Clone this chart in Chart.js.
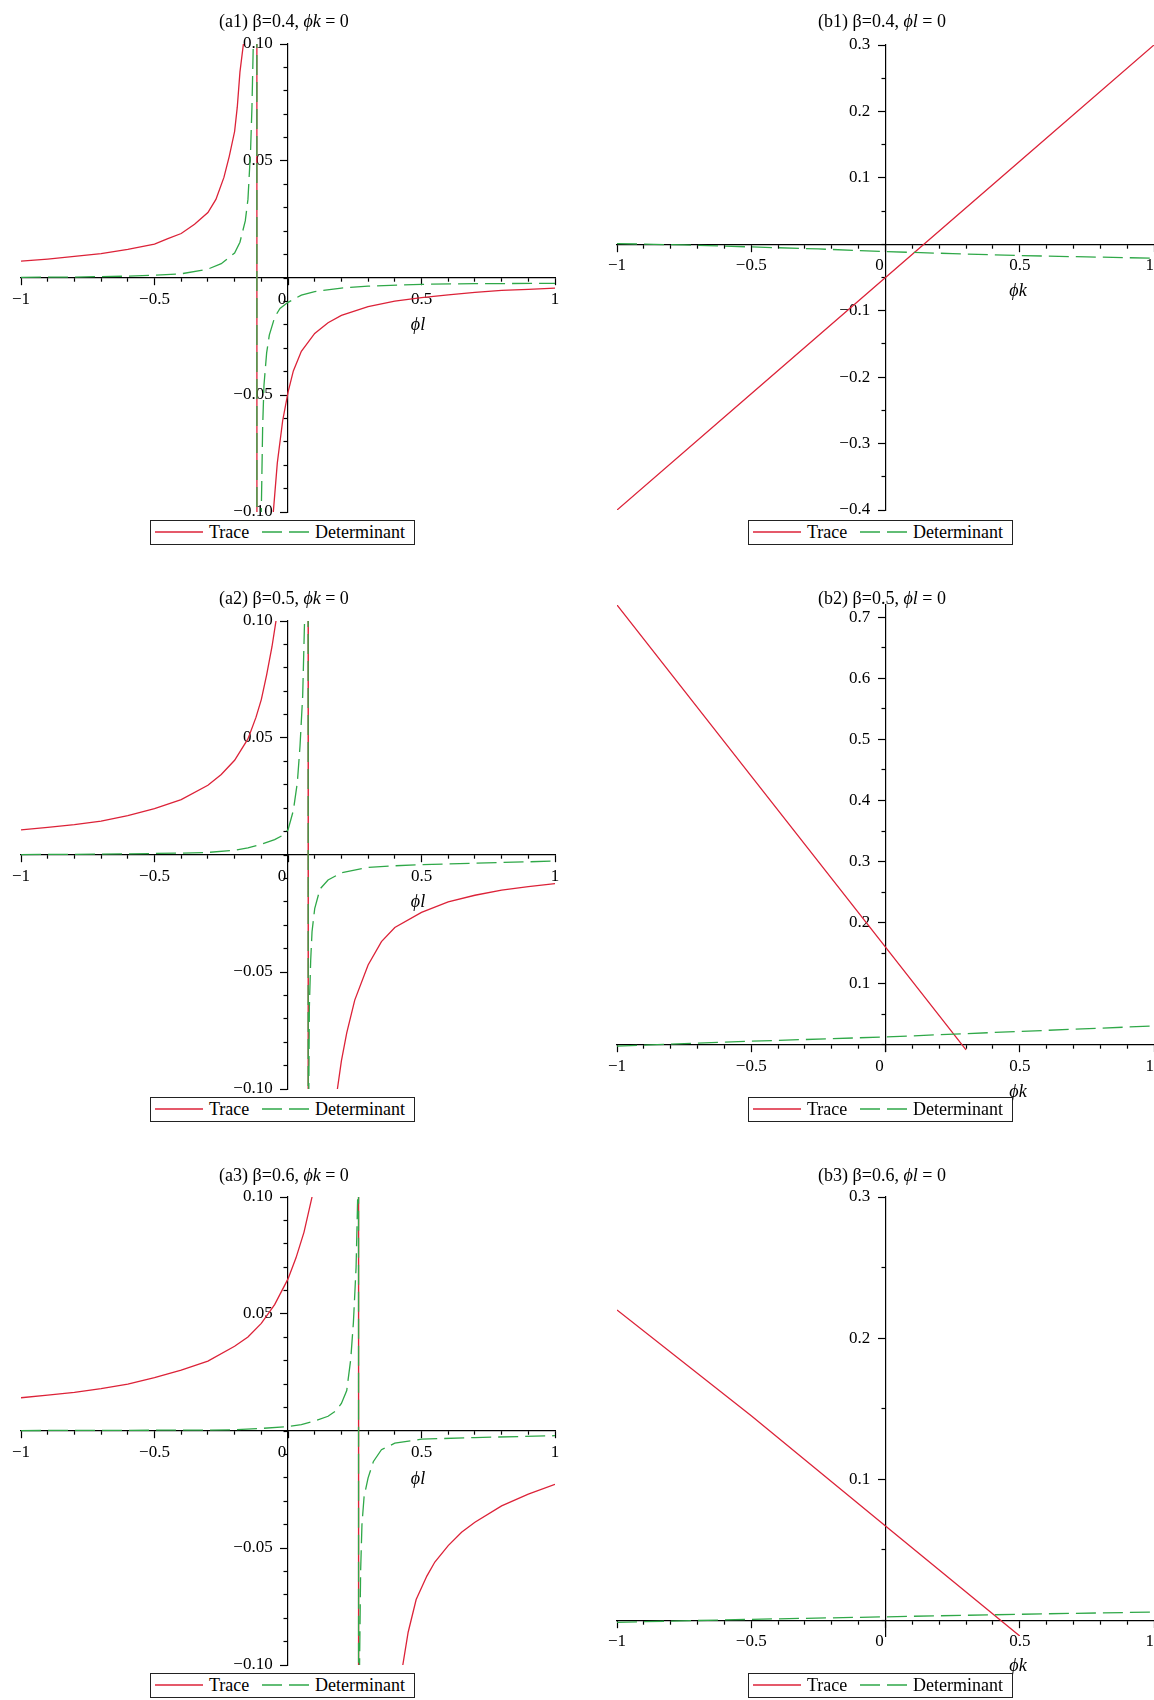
<!DOCTYPE html>
<html><head><meta charset="utf-8">
<script src="https://cdn.jsdelivr.net/npm/chart.js@4/dist/chart.umd.min.js"></script>
<style>
html,body{margin:0;padding:0;background:#fff;}
#wrap{position:relative;width:1154px;height:1700px;overflow:hidden;background:#fff;}
canvas{position:absolute;}
.title{position:absolute;width:400px;text-align:center;font-family:'Liberation Serif','Times New Roman',serif;font-size:18px;line-height:20px;color:#000;white-space:nowrap;}
.mi{font-style:italic;}
.axl{position:absolute;width:40px;text-align:center;font-family:'Liberation Serif','Times New Roman',serif;font-style:italic;font-size:18px;line-height:20px;color:#000;}
.legend{position:absolute;width:265px;height:25px;border:1.5px solid #222;box-sizing:border-box;background:#fff;font-family:'Liberation Serif','Times New Roman',serif;font-size:18px;color:#000;}
.legend span{position:absolute;top:0;line-height:22px;white-space:nowrap;}
.legend svg{position:absolute;left:0;top:0;}
</style></head>
<body><div id="wrap"></div>
<script>
// ---------- tick labels ----------
const xMajorTicks = [-1, -0.5, 0, 0.5, 1];
const aXTickLabels = ['\u22121', '\u22120.5', '0\u2002\u2009', '0.5', '1'];
const bXTickLabels = ['\u22121', '\u22120.5', '0\u2002\u2009', '0.5', '1\u2002'];
const aYMajorTicks = [-0.10, -0.05, 0.05, 0.10];
const aYTickLabels = ['\u22120.10', '\u22120.05', '0.05', '0.10'];
const b1YMajorTicks = [-0.4, -0.3, -0.2, -0.1, 0.1, 0.2, 0.3];
const b1YTickLabels = ['\u22120.4', '\u22120.3', '\u22120.2', '\u22120.1', '0.1', '0.2', '0.3'];
const b2YMajorTicks = [0.1, 0.2, 0.3, 0.4, 0.5, 0.6, 0.7];
const b2YTickLabels = ['0.1', '0.2', '0.3', '0.4', '0.5', '0.6', '0.7'];
const b3YMajorTicks = [0.1, 0.2, 0.3];
const b3YTickLabels = ['0.1', '0.2', '0.3'];
const Y_LABEL_GAP = '\u2002\u2009\u2009';

// ---------- titles ----------
const panelTitles = [
  ['(a1) \u03B2=0.4, ', '\u03D5k', ' = 0'],
  ['(b1) \u03B2=0.4, ', '\u03D5l', ' = 0'],
  ['(a2) \u03B2=0.5, ', '\u03D5k', ' = 0'],
  ['(b2) \u03B2=0.5, ', '\u03D5l', ' = 0'],
  ['(a3) \u03B2=0.6, ', '\u03D5k', ' = 0'],
  ['(b3) \u03B2=0.6, ', '\u03D5l', ' = 0']
];
const seriesNames = ['Trace', 'Determinant'];

// ---------- data: (a) panels, x = phi_l ----------
const a1TraceX = [-1,-0.9,-0.8,-0.7,-0.6,-0.5,-0.45,-0.4,-0.35,-0.3,-0.27,-0.24,-0.22,-0.2,-0.19,-0.18,-0.167,-0.117,-0.116,-0.055,-0.04,-0.02,0,0.02,0.05,0.1,0.15,0.2,0.3,0.4,0.5,0.6,0.7,0.8,0.9,1];
const a1TraceY = [0.0072,0.0081,0.0092,0.0104,0.0122,0.0145,0.0168,0.019,0.023,0.028,0.0336,0.043,0.052,0.0626,0.073,0.088,0.1,0.6,-0.6,-0.1,-0.079,-0.061,-0.0489,-0.0397,-0.0313,-0.0237,-0.0191,-0.016,-0.0122,-0.0099,-0.0084,-0.0072,-0.0061,-0.0053,-0.0049,-0.0043];
const a1DetX = [-1,-0.8,-0.6,-0.5,-0.4,-0.3,-0.25,-0.2,-0.18,-0.16,-0.15,-0.14,-0.135,-0.13,-0.117,-0.116,-0.1,-0.095,-0.09,-0.08,-0.07,-0.05,-0.03,0,0.05,0.1,0.2,0.3,0.5,0.7,1];
const a1DetY = [0.0003,0.0004,0.0008,0.0012,0.0018,0.0038,0.0061,0.0107,0.0153,0.0244,0.0336,0.055,0.073,0.1,0.6,-0.6,-0.1,-0.064,-0.0458,-0.032,-0.0244,-0.0168,-0.013,-0.0104,-0.0073,-0.0058,-0.0043,-0.0035,-0.0027,-0.0024,-0.0023];

const a2TraceX = [-1,-0.9,-0.8,-0.7,-0.6,-0.5,-0.4,-0.3,-0.25,-0.2,-0.15,-0.12,-0.1,-0.08,-0.06,-0.045,0.075,0.076,0.185,0.2,0.22,0.25,0.3,0.35,0.4,0.5,0.6,0.7,0.8,0.9,1];
const a2TraceY = [0.0107,0.0118,0.013,0.0145,0.0168,0.0198,0.0237,0.0298,0.0344,0.0405,0.0496,0.0588,0.0664,0.077,0.089,0.1,0.6,-0.6,-0.1,-0.088,-0.076,-0.062,-0.047,-0.037,-0.031,-0.0245,-0.02,-0.0172,-0.015,-0.0135,-0.0122];
const a2DetX = [-1,-0.8,-0.6,-0.4,-0.3,-0.2,-0.15,-0.1,-0.05,-0.02,0,0.02,0.035,0.045,0.055,0.062,0.075,0.076,0.078,0.08,0.085,0.09,0.1,0.12,0.15,0.2,0.3,0.4,0.5,0.7,1];
const a2DetY = [0.0002,0.0003,0.0005,0.0008,0.0011,0.002,0.003,0.0046,0.0066,0.0084,0.0107,0.019,0.031,0.0466,0.068,0.1,0.6,-0.6,-0.1,-0.065,-0.045,-0.0328,-0.0229,-0.0145,-0.0107,-0.0076,-0.0053,-0.0046,-0.0041,-0.0035,-0.0026];

const a3TraceX = [-1,-0.9,-0.8,-0.7,-0.6,-0.5,-0.4,-0.3,-0.2,-0.15,-0.1,-0.05,0,0.03,0.06,0.09,0.264,0.2645,0.43,0.45,0.48,0.52,0.55,0.6,0.65,0.7,0.8,0.9,1];
const a3TraceY = [0.0142,0.0153,0.0165,0.0181,0.02,0.0228,0.026,0.0299,0.0362,0.0402,0.046,0.054,0.065,0.074,0.085,0.1,0.6,-0.6,-0.1,-0.086,-0.072,-0.062,-0.056,-0.049,-0.0433,-0.039,-0.032,-0.027,-0.0228];
const a3DetX = [-1,-0.6,-0.3,-0.2,-0.1,0,0.05,0.1,0.15,0.18,0.2,0.22,0.235,0.245,0.255,0.261,0.264,0.2645,0.268,0.272,0.277,0.285,0.3,0.32,0.35,0.4,0.5,0.7,1];
const a3DetY = [0.0002,0.0003,0.0004,0.0005,0.0011,0.0019,0.0027,0.0043,0.0063,0.0087,0.0118,0.0173,0.0307,0.0465,0.07,0.1,0.6,-0.6,-0.1,-0.06,-0.04,-0.028,-0.02,-0.013,-0.008,-0.0052,-0.0035,-0.0028,-0.002];

// ---------- data: (b) panels, x = phi_k ----------
const b1TraceX = [-1,-0.5,0,0.5,1];
const b1TraceY = [-0.4,-0.225,-0.05,0.125,0.3];
const b1DetX = [-1,-0.75,-0.5,-0.25,0,0.25,0.5,0.75,1];
const b1DetY = [0.001,-0.001,-0.004,-0.007,-0.011,-0.014,-0.017,-0.019,-0.021];

const b2TraceX = [-1,-0.5,0,0.3];
const b2TraceY = [0.72,0.44,0.16,-0.008];
const b2DetX = [-1,-0.5,0,0.5,1];
const b2DetY = [-0.002,0.006,0.013,0.022,0.031];

const b3TraceX = [-1,-0.5,0,0.5];
const b3TraceY = [0.22,0.145,0.067,-0.011];
const b3DetX = [-1,-0.5,0,0.5,1];
const b3DetY = [-0.0013,0.0008,0.0026,0.0044,0.006];

// ---------- styling / layout ----------
const RED = '#dc2238';
const GREEN = '#2fa848';
const FONT = "'Liberation Serif','Times New Roman',serif";

const panels = [
  {t:0, canvas:{l:0,t:0,w:577,h:577}, pad:{left:21,right:22,top:44,bottom:65}, tx:a1TraceX,ty:a1TraceY,dx:a1DetX,dy:a1DetY, yMin:-0.1,yMax:0.1,yStep:0.01,yMaj:aYMajorTicks,yLab:aYTickLabels,xLab:aXTickLabels, title:{cx:284,cy:21}, axl:{cx:418,cy:324,txt:'\u03D5l'}, leg:{l:150,t:520}},
  {t:1, canvas:{l:577,t:0,w:600,h:577}, pad:{left:40,right:23,top:45,bottom:67}, tx:b1TraceX,ty:b1TraceY,dx:b1DetX,dy:b1DetY, yMin:-0.4,yMax:0.3,yStep:0.05,yMaj:b1YMajorTicks,yLab:b1YTickLabels,xLab:bXTickLabels, title:{cx:882,cy:21}, axl:{cx:1018,cy:290,txt:'\u03D5k'}, leg:{l:748,t:520}},
  {t:2, canvas:{l:0,t:577,w:577,h:577}, pad:{left:21,right:22,top:44,bottom:65}, tx:a2TraceX,ty:a2TraceY,dx:a2DetX,dy:a2DetY, yMin:-0.1,yMax:0.1,yStep:0.01,yMaj:aYMajorTicks,yLab:aYTickLabels,xLab:aXTickLabels, title:{cx:284,cy:598}, axl:{cx:418,cy:901,txt:'\u03D5l'}, leg:{l:150,t:1097}},
  {t:3, canvas:{l:577,t:577,w:600,h:577}, pad:{left:40,right:23,top:28,bottom:103}, tx:b2TraceX,ty:b2TraceY,dx:b2DetX,dy:b2DetY, yMin:-0.01,yMax:0.72,yStep:0.05,yMaj:b2YMajorTicks,yLab:b2YTickLabels,xLab:bXTickLabels, title:{cx:882,cy:598}, axl:{cx:1018,cy:1091,txt:'\u03D5k'}, leg:{l:748,t:1097}},
  {t:4, canvas:{l:0,t:1153,w:577,h:547}, pad:{left:21,right:22,top:44,bottom:35}, tx:a3TraceX,ty:a3TraceY,dx:a3DetX,dy:a3DetY, yMin:-0.1,yMax:0.1,yStep:0.01,yMaj:aYMajorTicks,yLab:aYTickLabels,xLab:aXTickLabels, title:{cx:284,cy:1175}, axl:{cx:418,cy:1478,txt:'\u03D5l'}, leg:{l:150,t:1673}},
  {t:5, canvas:{l:577,t:1153,w:600,h:547}, pad:{left:40,right:23,top:44,bottom:64}, tx:b3TraceX,ty:b3TraceY,dx:b3DetX,dy:b3DetY, yMin:-0.011,yMax:0.3,yStep:0.05,yMaj:b3YMajorTicks,yLab:b3YTickLabels,xLab:bXTickLabels, title:{cx:882,cy:1175}, axl:{cx:1018,cy:1665,txt:'\u03D5k'}, leg:{l:748,t:1673}}
];

function findIdx(v, arr) {
  for (let i = 0; i < arr.length; i++) if (Math.abs(arr[i] - v) < 1e-7) return i;
  return -1;
}
function pts(xs, ys) { return xs.map((x, i) => ({x: x, y: ys[i]})); }
// tick marks on every multiple of the step inside the axis range
function stepTicks(step) {
  return (scale) => {
    const t = [];
    const n0 = Math.ceil(scale.min / step - 1e-9), n1 = Math.floor(scale.max / step + 1e-9);
    for (let k = n0; k <= n1; k++) t.push({value: Math.round(k * step * 1e6) / 1e6});
    scale.ticks = t;
  };
}

const wrap = document.getElementById('wrap');

panels.forEach(p => {
  const cv = document.createElement('canvas');
  cv.width = p.canvas.w; cv.height = p.canvas.h;
  cv.style.left = p.canvas.l + 'px'; cv.style.top = p.canvas.t + 'px';
  cv.style.width = p.canvas.w + 'px'; cv.style.height = p.canvas.h + 'px';
  wrap.appendChild(cv);

  const tickFont = {family: FONT, size: 17};
  new Chart(cv, {
    type: 'scatter',
    data: {datasets: [
      {label: seriesNames[0], data: pts(p.tx, p.ty), showLine: true, borderColor: RED, backgroundColor: RED, borderWidth: 1.3, pointRadius: 0, pointHoverRadius: 0, tension: 0, order: 2, clip: 0},
      {label: seriesNames[1], data: pts(p.dx, p.dy), showLine: true, borderColor: GREEN, backgroundColor: GREEN, borderWidth: 1.3, borderDash: [20, 7], pointRadius: 0, pointHoverRadius: 0, tension: 0, order: 1, clip: 0}
    ]},
    options: {
      responsive: false, animation: false, devicePixelRatio: 1, events: [],
      layout: {padding: p.pad},
      plugins: {legend: {display: false}, tooltip: {enabled: false}, title: {display: false}},
      scales: {
        x: {
          type: 'linear', min: -1, max: 1, position: {y: 0},
          afterBuildTicks: stepTicks(0.1),
          border: {display: true, color: '#000', width: 1.2},
          grid: {drawOnChartArea: false, drawTicks: true, tickLength: 7, tickWidth: 1.2, tickColor: '#000',
                 tickBorderDash: (c) => (c.tick && findIdx(c.tick.value, xMajorTicks) >= 0) ? [] : [3.5, 30]},
          ticks: {autoSkip: false, maxRotation: 0, minRotation: 0,
                  padding: 4, color: '#000', font: tickFont,
                  callback: (v) => { const i = findIdx(v, xMajorTicks); return i >= 0 ? p.xLab[i] : ''; }}
        },
        y: {
          type: 'linear', min: p.yMin, max: p.yMax, position: {x: 0},
          afterBuildTicks: stepTicks(p.yStep),
          border: {display: true, color: '#000', width: 1.2},
          grid: {drawOnChartArea: false, drawTicks: true, tickLength: 7, tickWidth: 1.2, tickColor: '#000',
                 tickBorderDash: (c) => (c.tick && findIdx(c.tick.value, p.yMaj) >= 0) ? [] : [3.5, 30]},
          ticks: {autoSkip: false,
                  padding: 7, color: '#000', font: tickFont,
                  callback: (v) => { const i = findIdx(v, p.yMaj); return i >= 0 ? p.yLab[i] + Y_LABEL_GAP : ''; }}
        }
      }
    }
  });

  // title
  const tt = panelTitles[p.t];
  const td = document.createElement('div');
  td.className = 'title';
  td.style.left = (p.title.cx - 200) + 'px';
  td.style.top = (p.title.cy - 10) + 'px';
  td.appendChild(document.createTextNode(tt[0]));
  const sp = document.createElement('span'); sp.className = 'mi'; sp.textContent = tt[1];
  td.appendChild(sp);
  td.appendChild(document.createTextNode(tt[2]));
  wrap.appendChild(td);

  // axis label
  const ad = document.createElement('div');
  ad.className = 'axl';
  ad.style.left = (p.axl.cx - 20) + 'px';
  ad.style.top = (p.axl.cy - 10) + 'px';
  ad.textContent = p.axl.txt;
  wrap.appendChild(ad);

  // legend
  const lg = document.createElement('div');
  lg.className = 'legend';
  lg.style.left = p.leg.l + 'px';
  lg.style.top = p.leg.t + 'px';
  lg.innerHTML = '<svg width="262" height="22"><line x1="4" y1="11" x2="52" y2="11" stroke="' + RED + '" stroke-width="1.5"/>' +
    '<line x1="111" y1="11" x2="159" y2="11" stroke="' + GREEN + '" stroke-width="1.5" stroke-dasharray="20 7"/></svg>' +
    '<span style="left:58px">' + seriesNames[0] + '</span><span style="left:164px">' + seriesNames[1] + '</span>';
  wrap.appendChild(lg);
});
</script>
</body></html>
